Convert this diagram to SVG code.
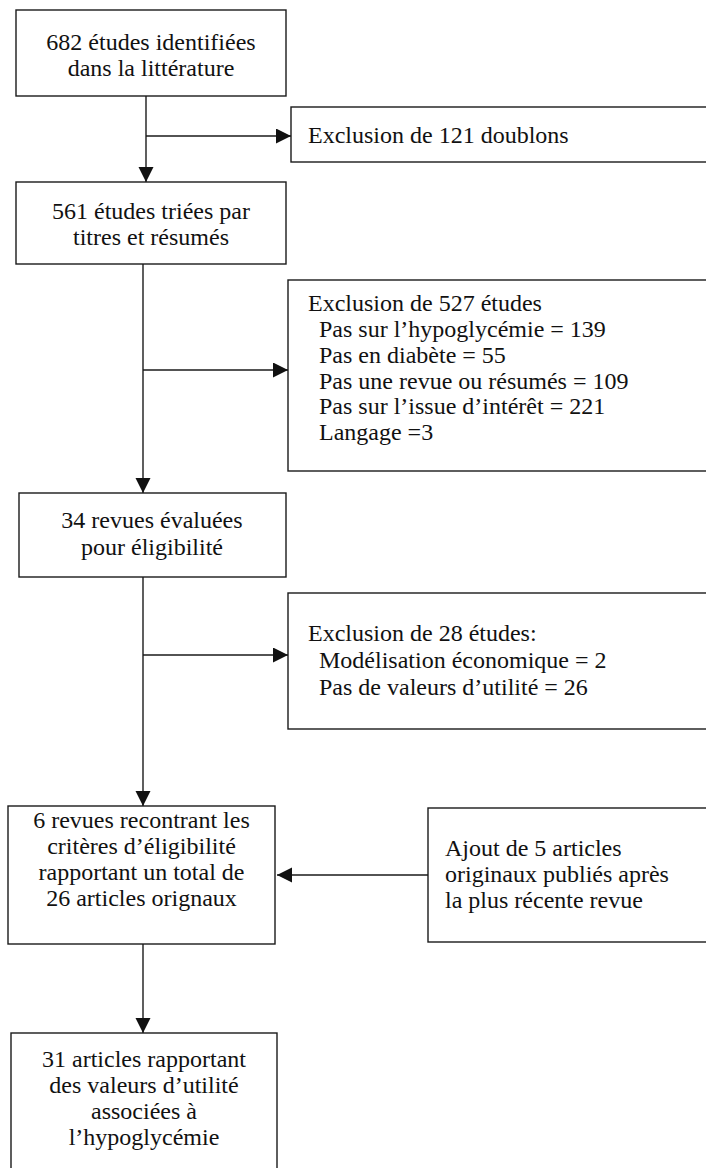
<svg xmlns="http://www.w3.org/2000/svg" width="706" height="1168" viewBox="0 0 706 1168" font-family="'Liberation Serif', 'Times New Roman', 'DejaVu Serif', serif" font-size="24">
<style>
.box{fill:#fff;stroke:#1a1a1a;stroke-width:1.4}
.ln{fill:none;stroke:#1a1a1a;stroke-width:1.4}
text{fill:#111}
.c{text-anchor:middle}
</style>
<defs>
<marker id="ah" markerWidth="16" markerHeight="16" refX="15" refY="7.5" orient="auto" markerUnits="userSpaceOnUse">
<path d="M0,0 L15,7.5 L0,15 Z" fill="#111"/>
</marker>
</defs>
<g id="connectors">
<line class="ln" x1="146" y1="96" x2="146" y2="182" marker-end="url(#ah)"/>
<line class="ln" x1="146" y1="136" x2="291" y2="136" marker-end="url(#ah)"/>
<line class="ln" x1="143" y1="264" x2="143" y2="493" marker-end="url(#ah)"/>
<line class="ln" x1="143" y1="370" x2="288" y2="370" marker-end="url(#ah)"/>
<line class="ln" x1="143" y1="577" x2="143" y2="806" marker-end="url(#ah)"/>
<line class="ln" x1="143" y1="655" x2="288" y2="655" marker-end="url(#ah)"/>
<line class="ln" x1="428" y1="875" x2="277" y2="875" marker-end="url(#ah)"/>
<line class="ln" x1="143" y1="944" x2="143" y2="1033" marker-end="url(#ah)"/>
</g>
<g id="n1">
<rect class="box" x="16" y="10" width="270" height="86"/>
<text class="c" x="151" y="50">682 études identifiées</text>
<text class="c" x="151" y="76">dans la littérature</text>
</g>
<g id="e1">
<rect class="box" x="291" y="107" width="420" height="55"/>
<text x="308" y="143">Exclusion de 121 doublons</text>
</g>
<g id="n2">
<rect class="box" x="16" y="182" width="270" height="82"/>
<text class="c" x="151" y="219">561 études triées par</text>
<text class="c" x="151" y="245">titres et résumés</text>
</g>
<g id="e2">
<rect class="box" x="288" y="280" width="423" height="191"/>
<text x="308" y="311">Exclusion de 527 études</text>
<text x="319" y="337">Pas sur l’hypoglycémie = 139</text>
<text x="319" y="363">Pas en diabète = 55</text>
<text x="319" y="389">Pas une revue ou résumés = 109</text>
<text x="319" y="414">Pas sur l’issue d’intérêt = 221</text>
<text x="319" y="440">Langage =3</text>
</g>
<g id="n3">
<rect class="box" x="19" y="493" width="267" height="84"/>
<text class="c" x="152" y="528">34 revues évaluées</text>
<text class="c" x="152" y="555">pour éligibilité</text>
</g>
<g id="e3">
<rect class="box" x="288" y="593" width="423" height="136"/>
<text x="308" y="641">Exclusion de 28 études:</text>
<text x="319" y="668">Modélisation économique = 2</text>
<text x="319" y="695">Pas de valeurs d’utilité = 26</text>
</g>
<g id="n4">
<rect class="box" x="8" y="806" width="267" height="138"/>
<text class="c" x="141.5" y="828">6 revues recontrant les</text>
<text class="c" x="141.5" y="854">critères d’éligibilité</text>
<text class="c" x="141.5" y="880">rapportant un total de</text>
<text class="c" x="141.5" y="906">26 articles orignaux</text>
</g>
<g id="a1">
<rect class="box" x="428" y="808" width="283" height="134"/>
<text x="445" y="856">Ajout de 5 articles</text>
<text x="445" y="882">originaux publiés après</text>
<text x="445" y="908">la plus récente revue</text>
</g>
<g id="n5">
<rect class="box" x="11" y="1033" width="266" height="145"/>
<text class="c" x="144" y="1067">31 articles rapportant</text>
<text class="c" x="144" y="1093">des valeurs d’utilité</text>
<text class="c" x="144" y="1119">associées à</text>
<text class="c" x="144" y="1145">l’hypoglycémie</text>
</g>
</svg>
